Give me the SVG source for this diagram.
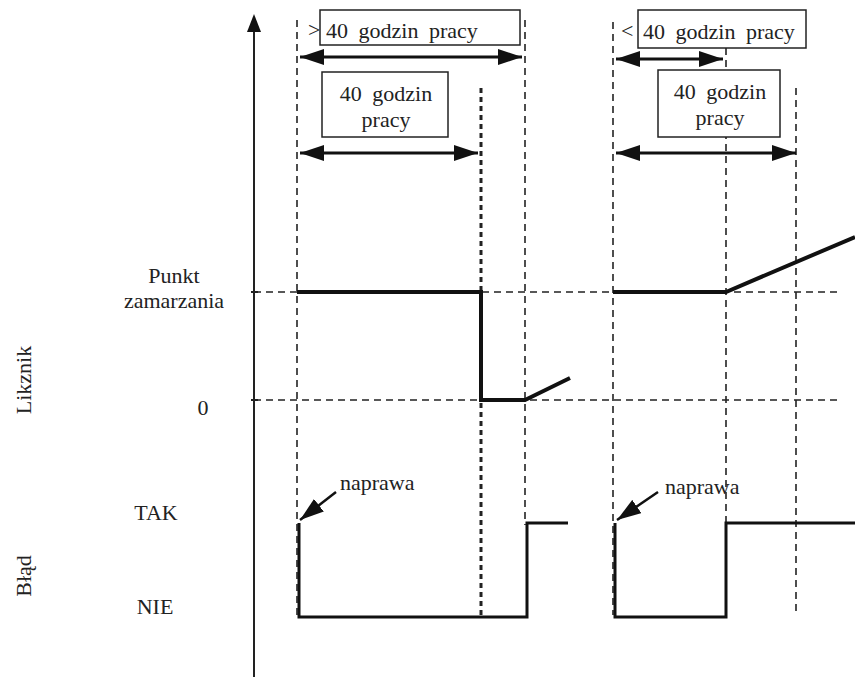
<svg xmlns="http://www.w3.org/2000/svg" width="855" height="677" viewBox="0 0 855 677">
<style>
text{font-family:"Liberation Serif","DejaVu Serif",serif;fill:#222}
.t{font-size:22px;word-spacing:5px}
.l{font-size:22px}
.d{stroke:#222;stroke-width:1.6;stroke-dasharray:7,5;fill:none}
.dd{stroke:#222;stroke-width:3;stroke-dasharray:5,4;fill:none}
.s{stroke:#111;stroke-width:4;fill:none;stroke-linejoin:miter}
.b{stroke:#111;stroke-width:3;fill:none}
.box{fill:#fff;stroke:#222;stroke-width:1.5}
.a{stroke:#111;stroke-width:3;fill:none}
</style>
<defs>
<marker id="big" viewBox="0 0 10 10" refX="10" refY="5" markerWidth="24" markerHeight="16" markerUnits="userSpaceOnUse" orient="auto-start-reverse" preserveAspectRatio="none">
<path d="M0,0 L10,5 L0,10 z" fill="#111"/>
</marker>
</defs>
<g id="axis">
<line x1="254" y1="30" x2="254" y2="677" stroke="#222" stroke-width="2"/>
<path d="M254,14 L247,32 L261,32 z" fill="#111"/>
<line x1="251" y1="292" x2="258" y2="292" stroke="#222" stroke-width="2"/>
<line x1="251" y1="400" x2="258" y2="400" stroke="#222" stroke-width="2"/>
</g>
<g id="gridlines">
<line class="d" x1="254" y1="292" x2="838" y2="292"/>
<line class="d" x1="254" y1="400" x2="838" y2="400"/>
<line class="d" x1="297" y1="20" x2="297" y2="615"/>
<line class="dd" x1="481" y1="88" x2="481" y2="615"/>
<line class="d" x1="525" y1="20" x2="525" y2="525"/>
<line class="d" x1="613" y1="22" x2="613" y2="615"/>
<line class="d" x1="726" y1="48" x2="726" y2="615"/>
<line class="d" x1="796" y1="88" x2="796" y2="615"/>
</g>
<g id="labels">
<text class="l" x="174" y="283" text-anchor="middle">Punkt</text>
<text class="l" x="174" y="308" text-anchor="middle">zamarzania</text>
<text class="l" x="203" y="415" text-anchor="middle">0</text>
<text class="l" x="156" y="520" text-anchor="middle">TAK</text>
<text class="l" x="155" y="614" text-anchor="middle">NIE</text>
<text class="l" transform="translate(31,380) rotate(-90)" text-anchor="middle">Likznik</text>
<text class="l" transform="translate(31,576) rotate(-90)" text-anchor="middle">Błąd</text>
</g>
<g id="box1">
<rect class="box" x="320" y="10" width="200" height="35"/>
<text class="l" x="308" y="37">&gt;</text>
<text class="t" x="326" y="38">40 godzin pracy</text>
</g>
<g id="box2">
<rect class="box" x="322" y="72" width="126" height="65"/>
<text class="t" x="386" y="101" text-anchor="middle">40 godzin</text>
<text class="t" x="386" y="127" text-anchor="middle">pracy</text>
</g>
<g id="box3">
<rect class="box" x="638" y="10" width="168" height="38"/>
<text class="l" x="621" y="38">&lt;</text>
<text class="t" x="643" y="39">40 godzin pracy</text>
</g>
<g id="box4">
<rect class="box" x="658" y="70" width="122" height="67"/>
<text class="t" x="720" y="99" text-anchor="middle">40 godzin</text>
<text class="t" x="720" y="125" text-anchor="middle">pracy</text>
</g>
<g id="connectors">
<line class="a" x1="300" y1="57" x2="522" y2="57" marker-start="url(#big)" marker-end="url(#big)"/>
<line class="a" x1="300" y1="153" x2="478" y2="153" marker-start="url(#big)" marker-end="url(#big)"/>
<line class="a" x1="616" y1="59" x2="723" y2="59" marker-start="url(#big)" marker-end="url(#big)"/>
<line class="a" x1="616" y1="153" x2="796" y2="153" marker-start="url(#big)" marker-end="url(#big)"/>
<line x1="336" y1="492" x2="300" y2="520" stroke="#111" stroke-width="2.5" marker-end="url(#big)"/>
<line x1="658" y1="492" x2="617" y2="520" stroke="#111" stroke-width="2.5" marker-end="url(#big)"/>
</g>
<g id="licznik">
<polyline class="s" points="297,292 481,292 481,400 525,400 570,378"/>
<polyline class="s" points="613,292 726,292 855,237"/>
</g>
<g id="blad">
<polyline class="b" points="299,523 299,617 527,617 527,523 568,523"/>
<polyline class="b" points="615,523 615,617 726,617 726,523 855,523"/>
</g>
<g id="naprawa">
<text class="l" x="340" y="490">naprawa</text>
<text class="l" x="665" y="494">naprawa</text>
</g>
</svg>
